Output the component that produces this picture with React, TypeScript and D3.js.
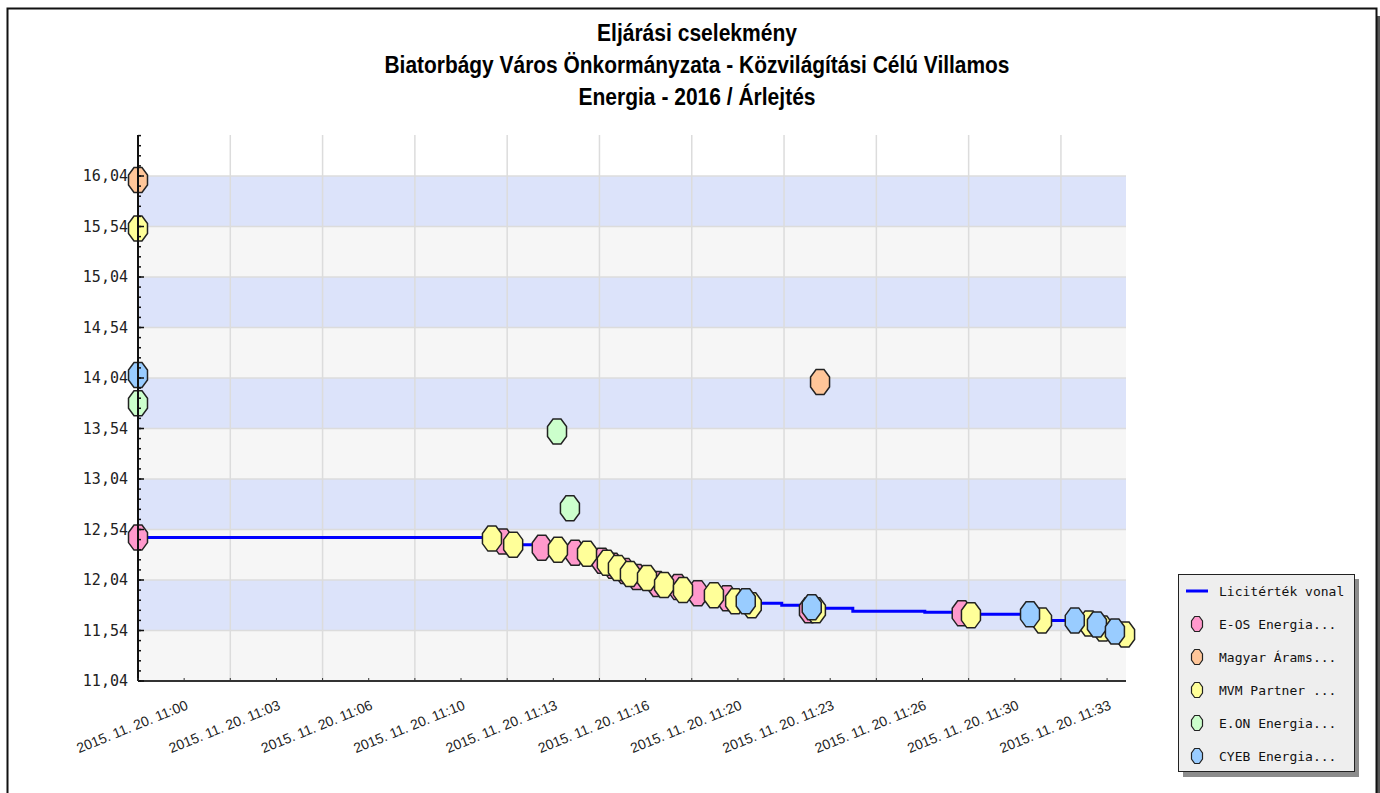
import React from "react";
import * as d3 from "d3";

const width = 1380;
const height = 793;

const titleLines = [
  "Eljárási cselekmény",
  "Biatorbágy Város Önkormányzata - Közvilágítási Célú Villamos",
  "Energia - 2016 / Árlejtés",
];

const day = "2015-11-20";
const startTime = "11:00:00";
const endTime = "11:35:41";
const tickStepSec = 200;

const yTicks = [11.04, 11.54, 12.04, 12.54, 13.04, 13.54, 14.04, 14.54, 15.04, 15.54, 16.04];
const yTop = 16.446;

const lineLabel = "Licitérték vonal";
const seriesNames = ["E-OS Energia...", "Magyar Árams...", "MVM Partner ...", "E.ON Energia...", "CYEB Energia..."];
const seriesColors = ["#ff99cc", "#ffc699", "#ffff99", "#ccffcc", "#99ccff"];

// bids per company: [time, price]
const eosBids: [string, number][] = [
  ["11:00:00", 12.46], ["11:13:11", 12.42], ["11:14:35", 12.36], ["11:15:47", 12.31],
  ["11:16:45", 12.23], ["11:17:09", 12.18], ["11:17:35", 12.13], ["11:18:01", 12.07],
  ["11:18:45", 12.0], ["11:19:30", 11.97], ["11:20:13", 11.91], ["11:21:16", 11.86],
  ["11:24:14", 11.74], ["11:29:45", 11.71],
];
const magyarBids: [string, number][] = [
  ["11:00:00", 16.0], ["11:24:38", 14.0],
];
const mvmBids: [string, number][] = [
  ["11:00:00", 15.52], ["11:12:47", 12.45], ["11:13:33", 12.39], ["11:15:10", 12.34],
  ["11:16:13", 12.3], ["11:16:56", 12.21], ["11:17:20", 12.16], ["11:17:46", 12.1],
  ["11:18:23", 12.06], ["11:19:00", 11.99], ["11:19:41", 11.94], ["11:20:48", 11.89],
  ["11:21:34", 11.83], ["11:22:10", 11.79], ["11:24:29", 11.74], ["11:30:05", 11.69],
  ["11:32:39", 11.64], ["11:34:21", 11.61], ["11:34:51", 11.56], ["11:35:39", 11.5],
];
const eonBids: [string, number][] = [
  ["11:00:00", 13.79], ["11:15:08", 13.51], ["11:15:36", 12.75],
];
const cyebBids: [string, number][] = [
  ["11:00:00", 14.07], ["11:21:57", 11.83], ["11:24:20", 11.77], ["11:32:13", 11.7],
  ["11:33:50", 11.64], ["11:34:38", 11.6], ["11:35:17", 11.53],
];

// the bid-value line (step)
const licitLine: [string, number][] = [
  ["11:00:00", 12.46], ["11:12:47", 12.45], ["11:13:11", 12.42], ["11:13:33", 12.39],
  ["11:14:35", 12.36], ["11:15:10", 12.34], ["11:15:47", 12.31], ["11:16:13", 12.3],
  ["11:16:45", 12.23], ["11:16:56", 12.21], ["11:17:09", 12.18], ["11:17:20", 12.16],
  ["11:17:35", 12.13], ["11:17:46", 12.1], ["11:18:01", 12.07], ["11:18:23", 12.06],
  ["11:18:45", 12.0], ["11:19:00", 11.99], ["11:19:30", 11.97], ["11:19:41", 11.94],
  ["11:20:13", 11.91], ["11:20:48", 11.89], ["11:21:16", 11.86], ["11:21:34", 11.83],
  ["11:22:10", 11.81], ["11:23:15", 11.79], ["11:24:20", 11.76], ["11:25:49", 11.73],
  ["11:28:25", 11.72], ["11:29:45", 11.71], ["11:30:05", 11.7], ["11:32:39", 11.64],
  ["11:34:21", 11.61], ["11:34:38", 11.6], ["11:34:51", 11.56], ["11:35:17", 11.53],
  ["11:35:39", 11.5],
];

const allSeries = [eosBids, magyarBids, mvmBids, eonBids, cyebBids];

const parse = d3.timeParse("%Y-%m-%d %H:%M:%S");
const toDate = (t: string) => parse(`${day} ${t}`) as Date;

const plot = { left: 138, right: 1126, top: 135, bottom: 681 };

const x = d3.scaleTime().domain([toDate(startTime), toDate(endTime)]).range([plot.left, plot.right]);
const y = d3.scaleLinear().domain([yTicks[0], yTop]).range([plot.bottom, plot.top]);

const fmtTick = d3.timeFormat("%Y. %m. %d. %H:%M");
const fmtY = (v: number) => d3.format(".2f")(v).replace(".", ",");

const octagon = (w: number, h: number) => {
  const a = w / 2, b = h / 2, c = w * 0.21, d = h * 0.2;
  return `M${-c},${-b}L${c},${-b}L${a},${-d}L${a},${d}L${c},${b}L${-c},${b}L${-a},${d}L${-a},${-d}Z`;
};

export default function App() {
  const t0 = toDate(startTime);
  const totalSec = (toDate(endTime).getTime() - t0.getTime()) / 1000;
  const majorX = d3.range(0, totalSec, tickStepSec).map((s) => d3.timeSecond.offset(t0, s));
  const minorX = d3.range(0, totalSec, tickStepSec / 2).map((s) => d3.timeSecond.offset(t0, s));
  const minorY = d3.range(yTicks[0], yTop, 0.1);

  const line = d3
    .line<[string, number]>()
    .x((d) => x(toDate(d[0])))
    .y((d) => y(d[1]))
    .curve(d3.curveStepAfter);

  const marker = octagon(19, 25);
  const legendMarker = octagon(11, 15);

  return (
    <svg width={width} height={height} style={{ position: "absolute", left: 0, top: 0 }}>
      <rect x={0} y={0} width={width} height={height} fill="#fff" />
      {/* frame */}
      <rect x={1377} y={16} width={3} height={height} fill="#555" />
      <rect x={7.5} y={8.5} width={1369} height={820} fill="none" stroke="#111" strokeWidth={2} />

      {/* title */}
      <g fontFamily="'Liberation Sans', Arial, sans-serif" fontWeight="bold" fontSize={23} textAnchor="middle" fill="#000">
        {titleLines.map((t, i) => (
          <text key={i} x={697} y={41 + i * 32} textLength={[200, 625, 237][i]} lengthAdjust="spacingAndGlyphs">
            {t}
          </text>
        ))}
      </g>

      {/* bands */}
      {yTicks.slice(0, -1).map((v, i) => (
        <rect
          key={i}
          x={plot.left}
          y={y(yTicks[i + 1])}
          width={plot.right - plot.left}
          height={y(v) - y(yTicks[i + 1])}
          fill={i % 2 === 1 ? "#dce3fa" : "#f6f6f6"}
        />
      ))}
      {/* grid */}
      {yTicks.map((v, i) => (
        <line key={i} x1={plot.left} x2={plot.right} y1={y(v)} y2={y(v)} stroke="#dcdcdc" strokeWidth={1.5} />
      ))}
      {majorX.map((d, i) => (
        <line key={i} x1={x(d)} x2={x(d)} y1={plot.top} y2={plot.bottom} stroke="#dcdcdc" strokeWidth={1.5} />
      ))}

      {/* licit line */}
      <path d={line(licitLine) || ""} fill="none" stroke="#0000ff" strokeWidth={3} />

      {/* markers */}
      {allSeries.map((s, si) => (
        <g key={si}>
          {s.map((d, i) => (
            <path
              key={i}
              d={marker}
              transform={`translate(${x(toDate(d[0]))},${y(d[1])})`}
              fill={seriesColors[si]}
              stroke="#222"
              strokeWidth={1.5}
            />
          ))}
        </g>
      ))}

      {/* axes */}
      <line x1={plot.left} x2={plot.left} y1={plot.top} y2={plot.bottom} stroke="#111" strokeWidth={2} />
      <line x1={plot.left} x2={plot.right} y1={plot.bottom} y2={plot.bottom} stroke="#333" strokeWidth={2} />
      {minorY.map((v, i) => (
        <line key={i} x1={plot.left} x2={plot.left + 3} y1={y(v)} y2={y(v)} stroke="#111" strokeWidth={1.5} />
      ))}
      {yTicks.map((v, i) => (
        <line key={i} x1={plot.left} x2={plot.left + 6} y1={y(v)} y2={y(v)} stroke="#111" strokeWidth={1.5} />
      ))}
      {minorX.map((d, i) => (
        <line key={i} x1={x(d)} x2={x(d)} y1={plot.bottom} y2={plot.bottom - 3} stroke="#333" strokeWidth={1} />
      ))}
      <g fontFamily="'DejaVu Sans Mono', monospace" fontSize={15} textAnchor="end" fill="#222">
        {yTicks.map((v, i) => (
          <text key={i} x={plot.left - 10} y={y(v) + 5}>
            {fmtY(v)}
          </text>
        ))}
      </g>
      <g fontFamily="'Liberation Sans', Arial, sans-serif" fontSize={14} textAnchor="middle" fill="#222">
        {majorX.map((d, i) => (
          <text key={i} transform={`translate(${x(d) - 4},${plot.bottom + 50}) rotate(-22)`}>
            {fmtTick(d)}
          </text>
        ))}
      </g>

      {/* legend */}
      <rect x={1183} y={579} width={176} height={198} fill="#8c8c8c" />
      <rect x={1178.5} y={574.5} width={176} height={197} fill="#eeeeee" stroke="#222" strokeWidth={1} />
      <g fontFamily="'DejaVu Sans Mono', monospace" fontSize={13} fill="#111">
        <line x1={1186} x2={1208} y1={591} y2={591} stroke="#0000ff" strokeWidth={3} />
        <text x={1219} y={596}>{lineLabel}</text>
        {seriesNames.map((n, i) => (
          <g key={i} transform={`translate(0,${624 + i * 33})`}>
            <path d={legendMarker} transform="translate(1197,0)" fill={seriesColors[i]} stroke="#222" strokeWidth={1.2} />
            <text x={1219} y={5}>{n}</text>
          </g>
        ))}
      </g>
    </svg>
  );
}
